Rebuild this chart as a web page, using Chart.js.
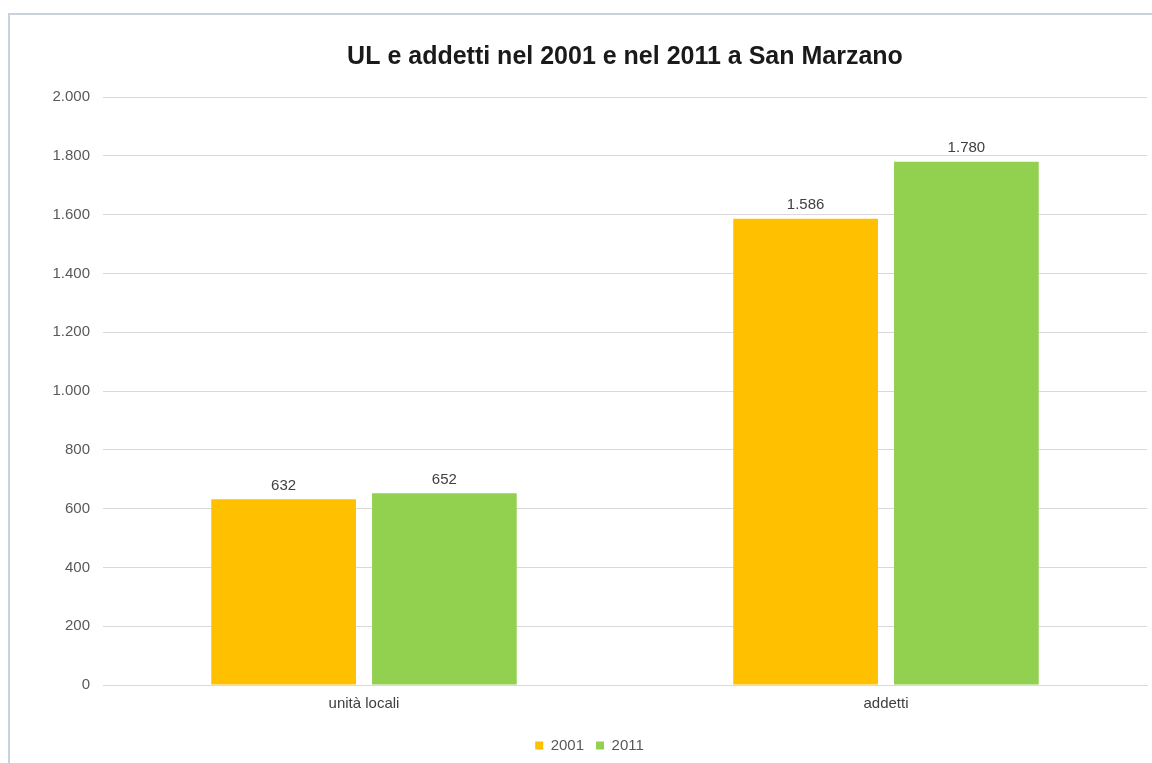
<!DOCTYPE html>
<html lang="it">
<head>
<meta charset="utf-8">
<title>UL e addetti nel 2001 e nel 2011 a San Marzano</title>
<script src="https://cdn.jsdelivr.net/npm/chart.js@4/dist/chart.umd.min.js"></script>
<style>
  html, body { margin: 0; padding: 0; background: #ffffff; }
  body { width: 1152px; height: 763px; position: relative; overflow: hidden; }
  .frame {
    position: absolute; left: 8px; top: 13px; width: 1170px; height: 780px;
    border-left: 2px solid #c9d3df; border-top: 2px solid #c9d3df;
    box-sizing: border-box;
  }
  #chart { position: absolute; left: 0; top: 0; }
</style>
</head>
<body>
<div class="frame"></div>
<canvas id="chart" width="1152" height="763"></canvas>
<script>
// Categories, series and axis settings
const categories = ['unità locali', 'addetti'];
const seriesLabels = ['2001', '2011'];
const values2001 = [632, 1586];
const values2011 = [652, 1780];
const seriesColors = ['#FFC000', '#92D050'];
const yMin = 0;
const yMax = 2000;
const yStep = 200;

// Italian-style thousands separator: 1586 -> "1.586"
function fmt(n) {
  return String(Math.round(n)).replace(/\B(?=(\d{3})+(?!\d))/g, '.');
}

const FONT = '"Liberation Sans", Arial, sans-serif';

// Value labels above each bar
const barValueLabels = {
  id: 'barValueLabels',
  afterDatasetsDraw(chart) {
    const ctx = chart.ctx;
    ctx.save();
    ctx.font = '15px ' + FONT;
    ctx.fillStyle = '#404040';
    ctx.textAlign = 'center';
    ctx.textBaseline = 'bottom';
    chart.data.datasets.forEach((ds, i) => {
      const meta = chart.getDatasetMeta(i);
      meta.data.forEach((bar, j) => {
        ctx.fillText(fmt(ds.data[j]), bar.x, bar.y - 6);
      });
    });
    ctx.restore();
  }
};

// Nudge the legend a little to the right of the canvas centre
const legendShift = {
  id: 'legendShift',
  afterUpdate(chart) {
    const lg = chart.legend;
    if (!lg) return;
    const dx = 16;
    lg.left += dx;
    lg.right += dx;
    (lg.legendHitBoxes || []).forEach(h => { h.left += dx; });
  }
};

new Chart(document.getElementById('chart'), {
  type: 'bar',
  data: {
    labels: categories,
    datasets: [
      { label: seriesLabels[0], data: values2001, backgroundColor: seriesColors[0] },
      { label: seriesLabels[1], data: values2011, backgroundColor: seriesColors[1] }
    ]
  },
  options: {
    responsive: false,
    animation: false,
    devicePixelRatio: 1,
    layout: { padding: { left: 0, right: 5, top: 0, bottom: 0 } },
    datasets: {
      bar: { categoryPercentage: 0.616, barPercentage: 0.9 }
    },
    scales: {
      x: {
        afterFit(scale) { scale.height += 3; },
        grid: { display: false, drawTicks: false },
        border: { display: true, color: '#d9d9d9', width: 1 },
        ticks: { color: '#404040', font: { family: FONT, size: 15 }, padding: 10 }
      },
      y: {
        min: yMin,
        max: yMax,
        afterFit(scale) { scale.width = 103; },
        grid: { color: '#d9d9d9', lineWidth: 1, drawTicks: false },
        border: { display: false },
        ticks: {
          stepSize: yStep,
          color: '#595959',
          font: { family: FONT, size: 15 },
          padding: 13,
          callback: (v) => fmt(v)
        }
      }
    },
    plugins: {
      title: {
        display: true,
        text: 'UL e addetti nel 2001 e nel 2011 a San Marzano',
        fullSize: false,
        color: '#1a1a1a',
        font: { family: FONT, size: 25, weight: 'bold' },
        padding: { top: 42, bottom: 25 }
      },
      legend: {
        position: 'bottom',
        labels: {
          color: '#595959',
          font: { family: FONT, size: 15 },
          boxWidth: 8,
          boxHeight: 8,
          padding: 12
        }
      },
      tooltip: { enabled: false }
    }
  },
  plugins: [barValueLabels, legendShift]
});
</script>
</body>
</html>
